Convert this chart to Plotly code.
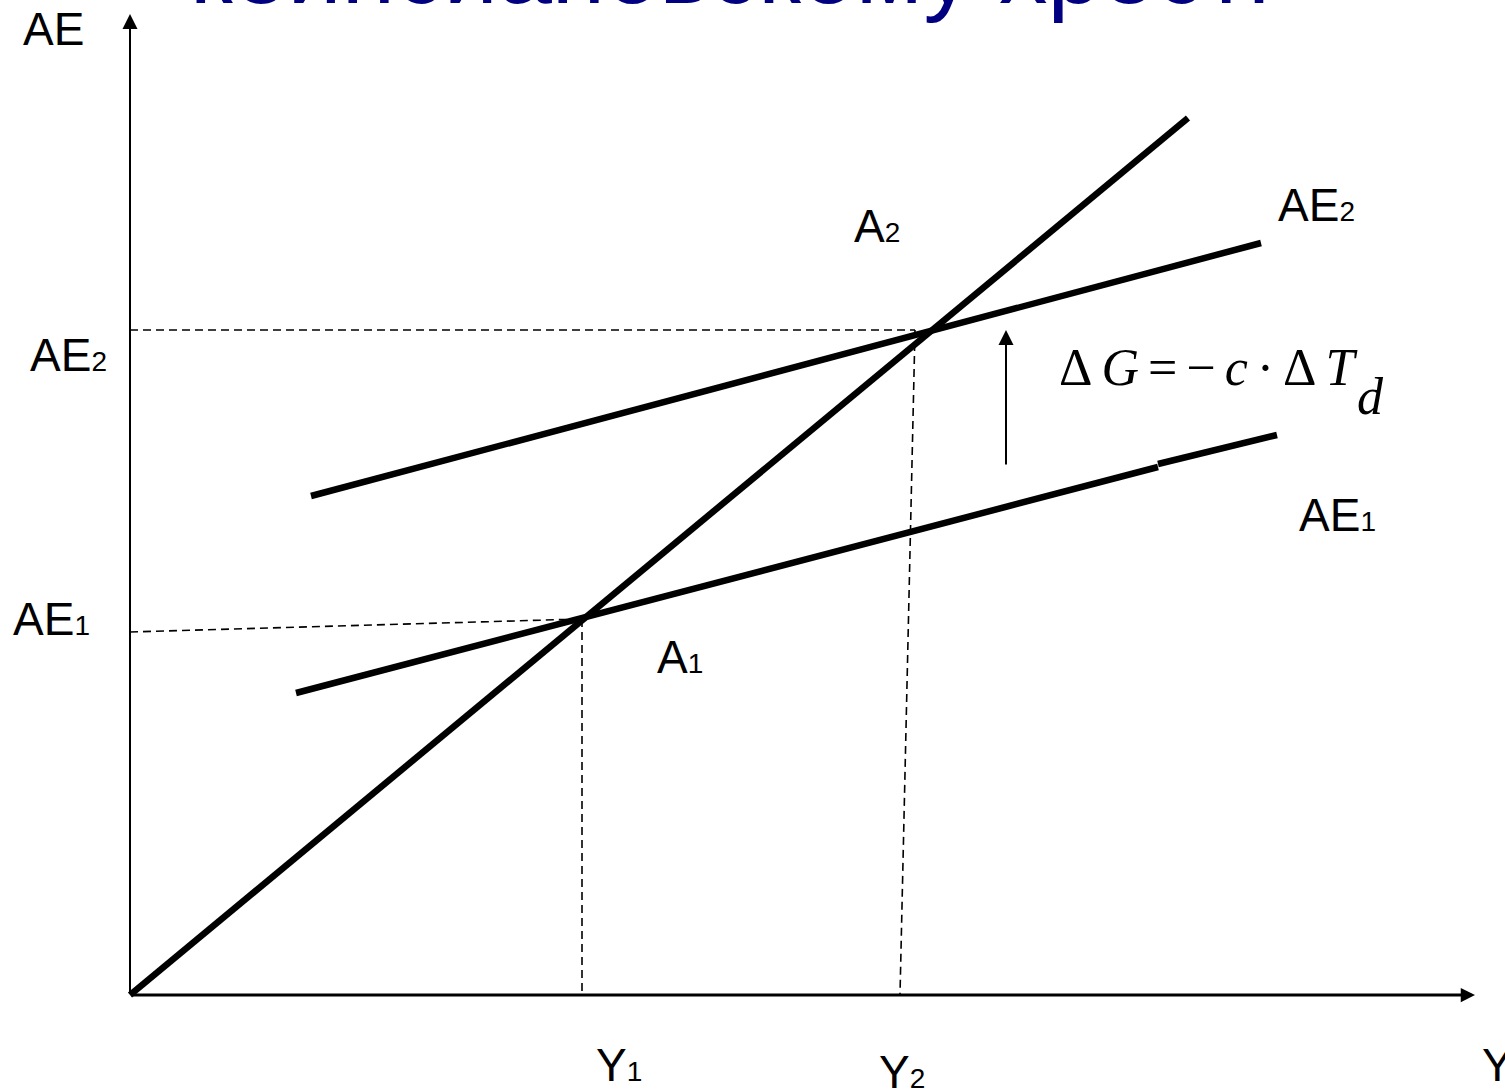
import plotly.graph_objects as go

# Keynesian cross: values in chart units (origin at the axes corner)
y_line_x = [0, 1058]
y_line_y = [0, 877]

ae1_x = [166, 1028, None, 1028, 1147]
ae1_y = [302, 528, None, 531, 560]

ae2_x = [181, 1131]
ae2_y = [499, 752]

Y1, AE1 = 452, 376
Y2_top, Y2_bottom, AE2 = 785, 770, 665
AE1_axis = 363

dG_x = 876
dG_from, dG_to = 529, 665

x_axis_end = 1345
y_axis_end = 981

fig = go.Figure()

thick = dict(color="black", width=6.5)
dashed = dict(color="black", width=1.6, dash="8px,5px")

fig.add_trace(go.Scatter(x=y_line_x, y=y_line_y, mode="lines", line=thick))
fig.add_trace(go.Scatter(x=ae1_x, y=ae1_y, mode="lines", line=thick))
fig.add_trace(go.Scatter(x=ae2_x, y=ae2_y, mode="lines", line=thick))

# dashed guides
fig.add_trace(go.Scatter(x=[0, Y1], y=[AE1_axis, AE1], mode="lines", line=dashed))
fig.add_trace(go.Scatter(x=[Y1, Y1], y=[AE1, 0], mode="lines", line=dashed))
fig.add_trace(go.Scatter(x=[0, Y2_top], y=[AE2, AE2], mode="lines", line=dashed))
fig.add_trace(go.Scatter(x=[Y2_top, Y2_bottom], y=[AE2, 0], mode="lines", line=dashed))

# axes with arrows
arr = dict(showarrow=True, arrowhead=2, arrowcolor="black", text="", axref="x", ayref="y")
fig.add_annotation(x=0, y=y_axis_end, ax=0, ay=0, arrowwidth=2, arrowsize=1.5, **arr)
fig.add_annotation(x=x_axis_end, y=0, ax=0, ay=0, arrowwidth=3, arrowsize=0.95, **arr)
fig.add_annotation(x=dG_x, y=dG_to, ax=dG_x, ay=dG_from, arrowwidth=2, arrowsize=1.5, **arr)

lab = dict(family="Liberation Sans, Arial", size=46, color="black")
sub = "<span style='font-size:28px'>%s</span>"

labels = [
    ("AE", -77, 966, "center"),
    ("AE" + sub % "2", -62, 640, "center"),
    ("AE" + sub % "1", -79, 376, "center"),
    ("A" + sub % "2", 747, 769, "center"),
    ("AE" + sub % "2", 1186, 790, "center"),
    ("AE" + sub % "1", 1207, 480, "center"),
    ("A" + sub % "1", 550, 338, "center"),
    ("Y" + sub % "1", 489, -70, "center"),
    ("Y" + sub % "2", 772, -77, "center"),
    ("Y", 1350, -70, "left"),
]
for t, lx, ly, anc in labels:
    fig.add_annotation(x=lx, y=ly, text=t, showarrow=False, font=lab,
                       xanchor=anc, yanchor="middle")

# formula
ser = dict(family="Liberation Serif, Times New Roman", size=52, color="black")
fig.add_annotation(x=927, y=628, xanchor="left", yanchor="middle", showarrow=False,
                   text="<span style='letter-spacing:9px'>Δ<i>G</i>=−<i>c</i>·Δ<i>T</i></span>",
                   font=ser)
fig.add_annotation(x=1240, y=599, xanchor="center", yanchor="middle", showarrow=False,
                   text="<i>d</i>", font=ser)

# title line, cut by the top edge
fig.add_annotation(x=730 / 1505, y=1 + 31 / 1091, xref="paper", yref="paper",
                   xanchor="center", yanchor="middle", showarrow=False,
                   text="кейнсиановскому хресті",
                   font=dict(family="Liberation Sans, Arial", size=97, color="#000080"))

fig.update_layout(
    width=1505, height=1091,
    margin=dict(l=0, r=0, t=0, b=0),
    plot_bgcolor="white", paper_bgcolor="white",
    showlegend=False,
    xaxis=dict(range=[-130, 1375], visible=False),
    yaxis=dict(range=[-96, 995], visible=False),
)

fig.write_html("out.html", config={"displayModeBar": False},
               post_script="document.body.style.margin='0';")
